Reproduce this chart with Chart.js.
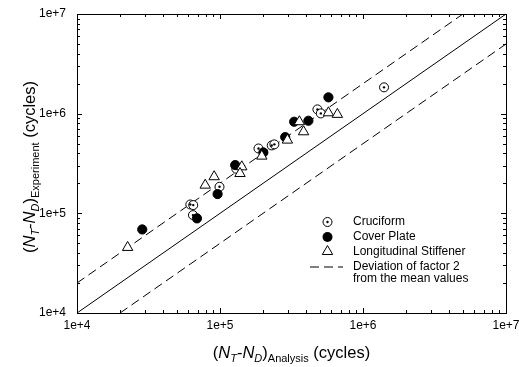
<!DOCTYPE html>
<html>
<head>
<meta charset="utf-8">
<script src="https://cdn.jsdelivr.net/npm/chart.js@4.4.0/dist/chart.umd.min.js"></script>
<style>
  html, body { margin: 0; padding: 0; background: #fff; }
</style>
</head>
<body>
<canvas id="lifeChart" width="519" height="367"></canvas>
<script>
// values (cycles)
const cruciformX = [62000, 65000, 64700, 99200, 130000, 185800, 230000, 240000, 480000, 507000, 1403000];
const cruciformY = [122700, 121000, 96000, 184500, 280000, 447500, 480000, 492000, 1104000, 1006000, 1837000];

const coverPlateX = [28600, 69000, 96200, 127700, 201000, 285700, 330000, 415000, 573000];
const coverPlateY = [68900, 89000, 156000, 305000, 408000, 582000, 830000, 849000, 1458000];

const stiffenerX = [22600, 78800, 91000, 142000, 138000, 196000, 296000, 359000, 384000, 573000, 662000];
const stiffenerY = [45500, 191700, 233000, 293000, 251000, 375000, 543000, 830000, 658000, 1020000, 984000];

// mean line and factor-of-2 band
const meanX = [1e4, 1e7];
const meanY = [1e4, 1e7];
const upperX = [1e4, 5e6];
const upperY = [2e4, 1e7];
const lowerX = [2e4, 1e7];
const lowerY = [1e4, 5e6];

const decadeTicks = [1e4, 1e5, 1e6, 1e7];
const tickLabels = ['1e+4', '1e+5', '1e+6', '1e+7'];

const legendNames = ['Cruciform', 'Cover Plate', 'Longitudinal Stiffener', 'Deviation of factor 2', 'from the mean values'];

const FONT = '"Liberation Sans", Arial, sans-serif';

function pts(xs, ys) {
  return xs.map((x, i) => ({ x: x, y: ys[i] }));
}

// ticks pointing into the plot on all four sides, plus the frame
const frameTicks = {
  id: 'frameTicks',
  afterDraw(chart) {
    const { ctx, chartArea: a, scales } = chart;
    ctx.save();
    ctx.strokeStyle = '#000';
    ctx.lineWidth = 1;
    ctx.strokeRect(Math.round(a.left) + 0.5, Math.round(a.top) + 0.5,
      Math.round(a.right - a.left), Math.round(a.bottom - a.top));
    ctx.beginPath();
    for (let d = 1e4; d <= 1e7; d *= 10) {
      for (let m = 1; m <= 9; m++) {
        const v = d * m;
        if (v > 1e7) break;
        const len = m === 1 ? 5 : 3;
        const px = Math.round(scales.x.getPixelForValue(v)) + 0.5;
        const py = Math.round(scales.y.getPixelForValue(v)) + 0.5;
        ctx.moveTo(px, a.bottom); ctx.lineTo(px, a.bottom - len);
        ctx.moveTo(px, a.top); ctx.lineTo(px, a.top + len);
        ctx.moveTo(a.left, py); ctx.lineTo(a.left + len, py);
        ctx.moveTo(a.right, py); ctx.lineTo(a.right - len, py);
      }
    }
    ctx.stroke();
    ctx.restore();
  }
};

// draw text runs with italic / subscript parts
function setFont(ctx, p) {
  ctx.font = (p.it ? 'italic ' : '') + (p.sub ? 11 : 16.5) + 'px ' + FONT;
}
function richWidth(ctx, parts) {
  let w = 0;
  for (const p of parts) { setFont(ctx, p); w += ctx.measureText(p.t).width; }
  return w;
}
function drawRich(ctx, parts, x, y) {
  for (const p of parts) {
    setFont(ctx, p);
    ctx.fillText(p.t, x, y + (p.sub ? 4 : 0));
    x += ctx.measureText(p.t).width;
  }
}
function titleParts(sub) {
  return [
    { t: '(' }, { t: 'N', it: true }, { t: 'T', it: true, sub: true }, { t: '-' },
    { t: 'N', it: true }, { t: 'D', it: true, sub: true }, { t: ')' },
    { t: sub, sub: true }, { t: ' (cycles)' }
  ];
}

const axisTitles = {
  id: 'axisTitles',
  afterDraw(chart) {
    const { ctx, chartArea: a } = chart;
    ctx.save();
    ctx.fillStyle = '#000';
    ctx.textBaseline = 'alphabetic';
    const xp = titleParts('Analysis');
    drawRich(ctx, xp, (a.left + a.right) / 2 - richWidth(ctx, xp) / 2, 358);
    const yp = titleParts('Experiment');
    ctx.translate(35, 167);
    ctx.rotate(-Math.PI / 2);
    drawRich(ctx, yp, -richWidth(ctx, yp) / 2, 0);
    ctx.restore();
  }
};

const boxLegend = {
  id: 'boxLegend',
  afterDraw(chart) {
    const ctx = chart.ctx;
    const sx = 327.5, tx = 353;
    const rows = [222, 237, 251.5, 266.5, 279];
    ctx.save();
    ctx.strokeStyle = '#000'; ctx.lineWidth = 1;
    // cruciform
    ctx.fillStyle = '#fff';
    ctx.beginPath(); ctx.arc(sx, rows[0], 4.5, 0, Math.PI * 2); ctx.fill(); ctx.stroke();
    ctx.fillStyle = '#000';
    ctx.beginPath(); ctx.arc(sx, rows[0], 1.2, 0, Math.PI * 2); ctx.fill();
    // cover plate
    ctx.beginPath(); ctx.arc(sx, rows[1], 5, 0, Math.PI * 2); ctx.fill();
    // stiffener
    const r = 6;
    ctx.beginPath();
    ctx.moveTo(sx, rows[2] - r);
    ctx.lineTo(sx + r * 0.866, rows[2] + r / 2);
    ctx.lineTo(sx - r * 0.866, rows[2] + r / 2);
    ctx.closePath();
    ctx.fillStyle = '#fff'; ctx.fill(); ctx.stroke();
    // band
    ctx.setLineDash([9, 5]);
    ctx.beginPath(); ctx.moveTo(310, rows[3] + 0.5); ctx.lineTo(343, rows[3] + 0.5); ctx.stroke();
    ctx.setLineDash([]);
    ctx.fillStyle = '#000';
    ctx.font = '12px ' + FONT;
    ctx.textBaseline = 'middle';
    legendNames.forEach((n, i) => ctx.fillText(n, tx, rows[i]));
    ctx.restore();
  }
};

const tickFont = { family: FONT, size: 12 };
const noPad = s => { s.paddingLeft = 0; s.paddingRight = 0; s.paddingTop = 0; s.paddingBottom = 0; };

new Chart(document.getElementById('lifeChart'), {
  type: 'scatter',
  data: {
    datasets: [
      {
        label: 'Longitudinal Stiffener',
        data: pts(stiffenerX, stiffenerY),
        pointStyle: 'triangle', pointRadius: 6, pointHoverRadius: 6,
        backgroundColor: '#fff', borderColor: '#000', borderWidth: 1
      },
      {
        label: 'Cover Plate',
        data: pts(coverPlateX, coverPlateY),
        pointStyle: 'circle', pointRadius: 4.6, pointHoverRadius: 4.6,
        backgroundColor: '#000', borderColor: '#000', borderWidth: 1
      },
      {
        label: 'Cruciform dot',
        data: pts(cruciformX, cruciformY),
        pointStyle: 'circle', pointRadius: 1.2, pointHoverRadius: 1.2,
        backgroundColor: '#000', borderWidth: 0
      },
      {
        label: 'Cruciform',
        data: pts(cruciformX, cruciformY),
        pointStyle: 'circle', pointRadius: 4.5, pointHoverRadius: 4.5,
        backgroundColor: '#fff', borderColor: '#000', borderWidth: 1
      },
      {
        label: 'mean', data: pts(meanX, meanY), showLine: true, pointRadius: 0,
        borderColor: '#000', borderWidth: 1
      },
      {
        label: 'upper', data: pts(upperX, upperY), showLine: true, pointRadius: 0,
        borderColor: '#000', borderWidth: 1, borderDash: [9, 5]
      },
      {
        label: 'lower', data: pts(lowerX, lowerY), showLine: true, pointRadius: 0,
        borderColor: '#000', borderWidth: 1, borderDash: [9, 5]
      }
    ]
  },
  options: {
    responsive: false,
    animation: false,
    layout: { padding: { top: 14, right: 13, left: 0, bottom: 0 } },
    plugins: { legend: { display: false }, tooltip: { enabled: false } },
    scales: {
      x: {
        type: 'logarithmic', min: 1e4, max: 1e7,
        grid: { display: false, drawTicks: false },
        border: { display: false },
        afterBuildTicks: s => { s.ticks = decadeTicks.map(v => ({ value: v })); },
        afterFit: s => { s.height = 54; noPad(s); },
        ticks: {
          font: tickFont, color: '#000', padding: 5, maxRotation: 0, autoSkip: false,
          callback: v => tickLabels[decadeTicks.indexOf(v)] || ''
        }
      },
      y: {
        type: 'logarithmic', min: 1e4, max: 1e7,
        grid: { display: false, drawTicks: false },
        border: { display: false },
        afterBuildTicks: s => { s.ticks = decadeTicks.map(v => ({ value: v })); },
        afterFit: s => { s.width = 77; noPad(s); },
        ticks: {
          font: tickFont, color: '#000', padding: 11, autoSkip: false,
          callback: v => tickLabels[decadeTicks.indexOf(v)] || ''
        }
      }
    }
  },
  plugins: [frameTicks, axisTitles, boxLegend]
});
</script>
</body>
</html>
